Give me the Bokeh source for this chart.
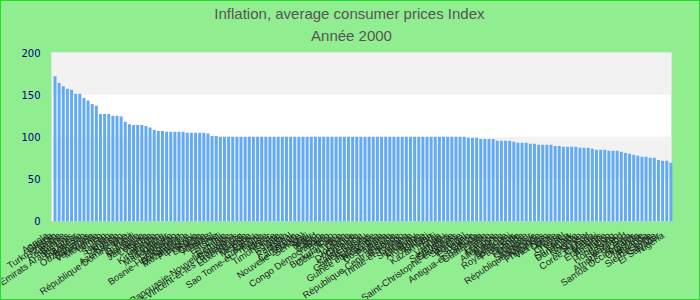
from bokeh.plotting import figure
from bokeh.models import Range1d, ColumnDataSource, BoxAnnotation, Title
from bokeh.core.properties import value
from bokeh.embed import file_html
from bokeh.resources import INLINE

countries = [
    "Angola", "Ghana", "Turkménistan", "Zambie", "Roumanie", "Bélarus",
    "Émirats Arabes Unis", "Équateur", "Indonésie", "Ouzbékistan", "Bahamas", "Venezuela",
    "Mongolie", "Yémen", "Iran", "Soudan", "Ukraine", "Russie", "Azerbaïdjan",
    "République Dominicaine", "Haïti", "Burundi", "Moldavie", "Jamaïque", "Lettonie",
    "Serbie", "Géorgie", "Kirghizistan", "Éthiopie", "Madagascar", "Hongrie", "Tadjikistan",
    "Bosnie-Herzégovine", "Bangladesh", "Mozambique", "Paraguay", "Pologne", "Lituanie",
    "Croatie", "Albanie", "Brésil", "Estonie", "Chili", "Namibie",
    "Papouasie-Nouvelle-Guinée", "Botswana", "Saint-Vincent-et-les Grenadines",
    "Luxembourg", "Islande", "Mexique", "Pérou", "Colombie", "Sao Tome-et-Principe",
    "Tunisie", "Maroc", "Timor-Leste", "Égypte", "Inde", "Pakistan", "Népal", "Cameroun",
    "Nouvelle-Zélande", "Sénégal", "Mali", "Niger", "Tchad", "Gabon", "Congo Démocratique",
    "Bénin", "Togo", "Burkina Faso", "Côte d'Ivoire", "Liban", "Jordanie", "Dominique",
    "Grenade", "Sainte-Lucie", "Guinée-Bissau", "Honduras", "Guinée équatoriale",
    "Nicaragua", "Costa Rica", "Panama", "Belize", "République Centrafricaine", "Barbade",
    "Trinité-et-Tobago", "Guyana", "Suriname", "Uruguay", "Argentine", "Bolivie",
    "Kiribati", "Kazakhstan", "Fidji", "Tonga", "Vanuatu", "Seychelles", "Slovaquie",
    "Saint-Christophe-et-Niévès", "Slovénie", "Portugal", "Espagne", "Grèce",
    "Antigua-et-Barbuda", "Guatemala", "Italie", "France", "Maurice", "Allemagne",
    "Autriche", "Belgique", "Royaume-Uni", "Pays-Bas", "Irlande", "Finlande", "Malaisie",
    "Singapour", "République tchèque", "Thaïlande", "Philippines", "Viet Nam", "Chine",
    "Malte", "Chypre", "Israël", "Sri Lanka", "Danemark", "Suède", "Norvège", "Suisse",
    "Corée du Sud", "Canada", "Malawi", "États-Unis", "Australie", "Japon", "Hong Kong",
    "Lesotho", "Swaziland", "Afrique du Sud", "Kenya", "Samoa Occidentales", "Ouganda",
    "Tanzanie", "Rwanda", "Sierra Leone", "Gambie", "El Salvador", "Nigeria",
]

values = [
    172, 164, 160, 157, 156, 151, 151, 146, 143, 139,
    137, 127, 127, 127, 125, 125, 124, 118, 115, 114,
    114, 114, 113, 111, 108, 107, 107, 106, 106, 106,
    106, 106, 105, 105, 105, 105, 105, 104, 101, 101,
] + [100] * 60 + [
    98.8, 98.8, 98.8, 97.6, 97.6, 97.6, 97.6, 95.3, 95.3, 95.3,
    95.3, 94.1, 92.9, 92.9, 92.9, 91.7, 91.7, 90.5, 90.5, 90.5,
    90.5, 89.3, 89.3, 88.2, 88.2, 88.2, 88.2, 87.0, 87.0, 87.0,
    85.8, 84.6, 84.6, 84.6, 83.4, 83.4, 83.4, 82.2, 81.0, 79.9,
    78.7, 77.5, 76.3, 76.3, 75.1, 75.1, 72.7, 71.6, 71.6, 69.2,
]

y_ticks = [0, 50, 100, 150, 200]
y_tick_labels = ["0", "50", "100", "150", "200"]
title_main = "Inflation, average consumer prices  Index"
title_sub = "Année 2000"

# ---- layout constants (pixels) ----
W, H = 700, 300
PLOT_L, PLOT_R = 50, 670          # plot area, horizontally
PLOT_T, PLOT_B = 52, 220          # plot area, vertically
FRAME_T = 46                      # the frame starts right under the titles
Y_MAX = 200
BG = "#90ee90"

n = len(countries)
band = (PLOT_R - PLOT_L) / n
x0 = -0.85                        # data x at the left edge of the plot area
x_start = x0 - PLOT_L / band
x_end = x_start + W / band
x1 = x0 + n                       # data x at the right edge of the plot area
ppy = (PLOT_B - PLOT_T) / Y_MAX
y_start = -(H - PLOT_B) / ppy
y_end = Y_MAX + (PLOT_T - FRAME_T) / ppy

idx = list(range(n))
bars = ColumnDataSource(dict(x=idx, top=values, name=countries, base=[0] * n))
yt = ColumnDataSource(dict(y=y_ticks, label=y_tick_labels, x=[x0] * len(y_ticks)))

p = figure(width=W, height=H, output_backend="svg", toolbar_location=None,
           x_range=Range1d(x_start, x_end), y_range=Range1d(y_start, y_end),
           min_border_left=0, min_border_right=0, min_border_top=0,
           min_border_bottom=0)

p.background_fill_color = BG
p.border_fill_color = BG
p.outline_line_color = None
p.styles = {"border": "1px solid #22dd22", "box-sizing": "border-box",
            "background-color": BG}
p.xaxis.visible = False
p.yaxis.visible = False
p.xgrid.visible = False
p.ygrid.visible = False

# plot area and its alternating bands
p.add_layout(BoxAnnotation(left=x0, right=x1, bottom=0, top=Y_MAX, fill_color="white",
                           fill_alpha=1, line_color=None, level="underlay"))
for lo, hi in [(50, 100), (150, 200)]:
    p.add_layout(BoxAnnotation(left=x0, right=x1, bottom=lo, top=hi, fill_color="#f2f2f2",
                               fill_alpha=1, line_color=None, level="underlay"))
p.add_layout(BoxAnnotation(left=x0, right=x1, bottom=0, top=Y_MAX, fill_color=None,
                           line_color="#cccccc", line_width=1, level="underlay"))

p.vbar(x="x", top="top", bottom=0, width=0.72, source=bars,
       fill_color="#63aaf5", line_color=None)

# category labels, rotated, ending a little below-left of each bar
p.text(x="x", y="base", text="name", source=bars, angle=0.60,
       text_align="right", text_baseline="alphabetic", x_offset=-8, y_offset=13,
       text_font=value("Liberation Sans"), text_font_size="9.5px",
       text_color="#1e1e1e")

# value axis labels
p.text(x="x", y="y", text="label", source=yt, text_align="right",
       text_baseline="middle", x_offset=-11,
       text_font=value("DejaVu Sans"), text_font_size="10px", text_color="#000080")

p.title.text = title_main
p.title.align = "center"
p.title.text_font = "Liberation Sans"
p.title.text_font_size = "15px"
p.title.text_font_style = "normal"
p.title.text_color = "#555555"
p.title.standoff = 2

sub = Title(text=title_sub, align="center", text_font="Liberation Sans",
            text_font_size="15px", text_font_style="normal", text_color="#555555",
            standoff=5)
p.add_layout(sub, "above")

open("out.html", "w").write(file_html(p, INLINE))
